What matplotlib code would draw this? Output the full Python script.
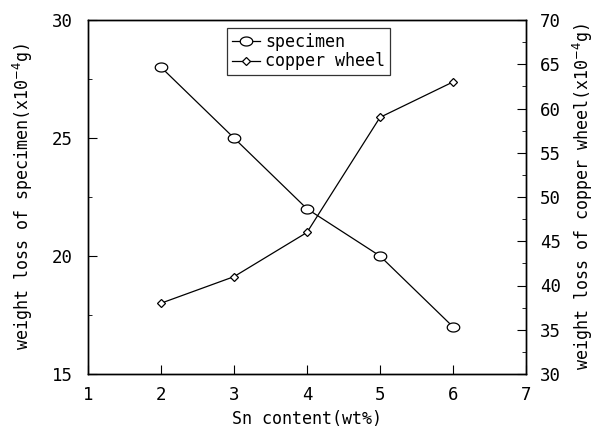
import matplotlib
matplotlib.use("Agg")
import numpy as np
import matplotlib.pyplot as plt
from matplotlib.path import Path
from matplotlib.ticker import MultipleLocator

plt.rcParams['font.family'] = ['DejaVu Sans Mono']

sn_content = [2, 3, 4, 5, 6]
specimen_loss = [28, 25, 22, 20, 17]
wheel_loss = [38, 41, 46, 59, 63]

fig = plt.figure(figsize=(5.99, 4.33), dpi=100)
ax = fig.add_axes([88 / 599, 1 - 374 / 433, (526 - 88) / 599, (374 - 20) / 433])
ax2 = ax.twinx()

# open circle squashed into a flat ellipse, like the original plotter symbol
t = np.linspace(0, 2 * np.pi, 60)
ellipse = Path(np.column_stack([np.cos(t), 0.72 * np.sin(t)]), closed=True)

l1, = ax.plot(sn_content, specimen_loss, color='black', lw=0.9, marker=ellipse,
              markersize=9, markerfacecolor='white', markeredgewidth=0.9,
              label='specimen', zorder=3)
l2, = ax2.plot(sn_content, wheel_loss, color='black', lw=0.9, marker='D',
               markersize=4, markerfacecolor='white', markeredgewidth=0.9,
               label='copper wheel')

ax.set_xlim(1, 7)
ax.set_ylim(15, 30)
ax2.set_ylim(30, 70)
ax.xaxis.set_major_locator(MultipleLocator(1))
ax.yaxis.set_major_locator(MultipleLocator(5))
ax.yaxis.set_minor_locator(MultipleLocator(2.5))
ax2.yaxis.set_major_locator(MultipleLocator(5))
ax2.yaxis.set_minor_locator(MultipleLocator(2.5))

ax.tick_params(axis='both', which='major', direction='in', length=6.5,
               labelsize=12.5, pad=11)
ax.tick_params(axis='x', pad=9)
ax.tick_params(axis='y', which='minor', direction='in', length=3)
ax2.tick_params(axis='y', which='major', direction='in', length=6.5,
                labelsize=12.5, pad=10)
ax2.tick_params(axis='y', which='minor', direction='in', length=3)

for a in (ax, ax2):
    for s in a.spines.values():
        s.set_linewidth(1.0)

ax.set_xlabel('Sn content(wt%)', fontsize=12, labelpad=4)
ax.set_ylabel('weight loss of specimen(x10$^{-4}$g)', fontsize=12, labelpad=12)
ax2.set_ylabel('weight loss of copper wheel(x10$^{-4}$g)', fontsize=12,
               rotation=90, labelpad=7)

leg = ax.legend(handles=[l1, l2], loc='upper left', bbox_to_anchor=(0.317, 0.978),
                frameon=True, fancybox=False, edgecolor='black', fontsize=12,
                handlelength=1.7, handletextpad=0.3, borderpad=0.3,
                labelspacing=0.1, borderaxespad=0)
leg.get_frame().set_linewidth(0.9)

fig.savefig('out.png', dpi=100)
